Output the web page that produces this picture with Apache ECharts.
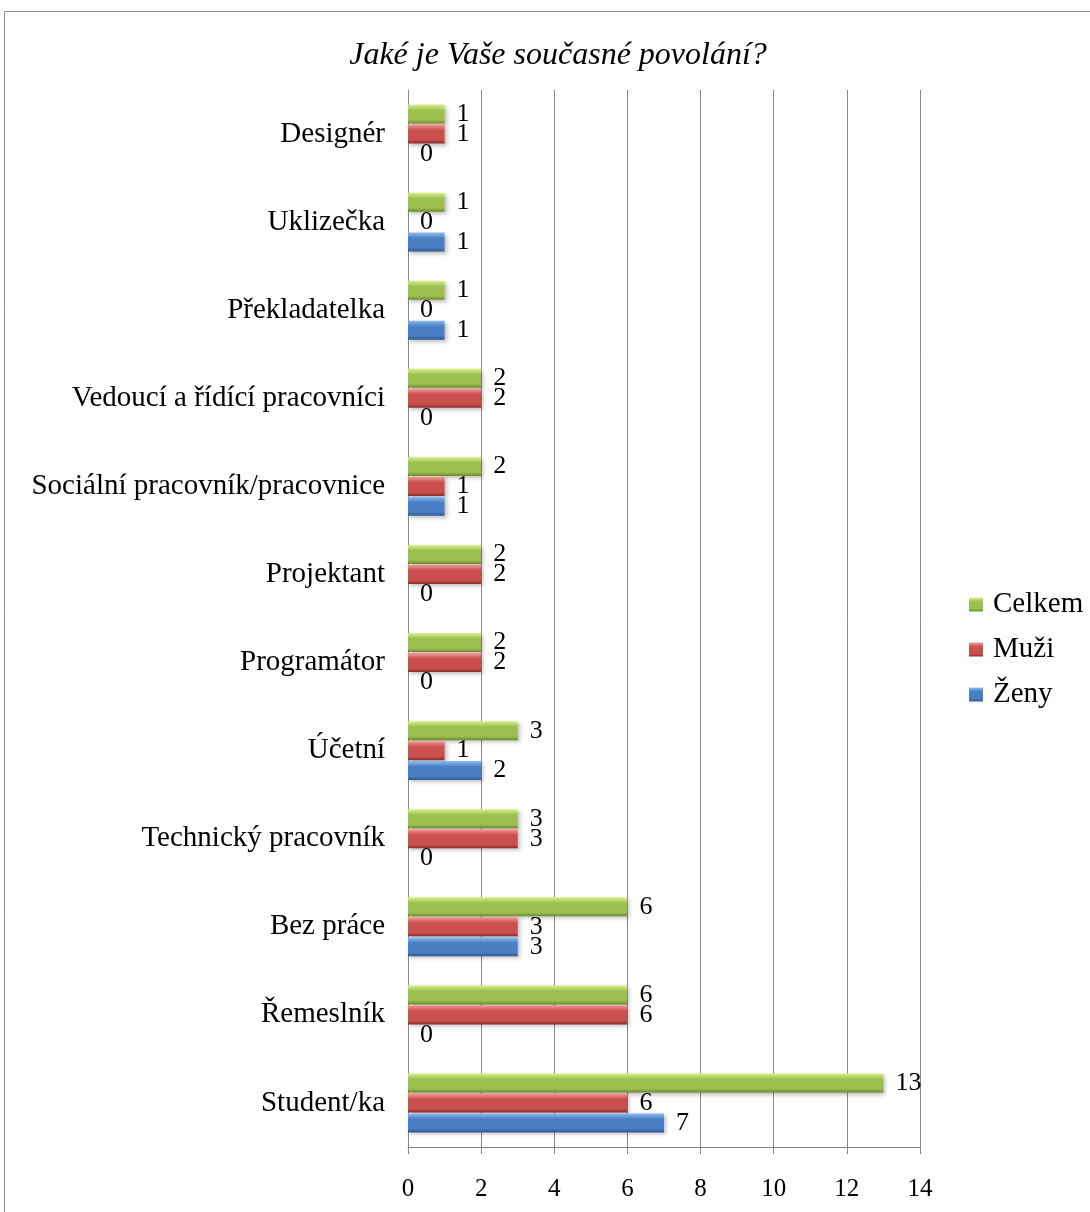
<!DOCTYPE html>
<html>
<head>
    <meta charset="utf-8">
    <title>Jaké je Vaše současné povolání?</title>
    <script src="https://cdn.jsdelivr.net/npm/echarts@6/dist/echarts.min.js"></script>
    <style>
        html, body { margin: 0; padding: 0; background: #fff; }
    </style>
</head>
<body>
<div id="main" style="width:1090px;height:1212px;"></div>
<script type="text/javascript">

    // kategorie odspodu nahoru
    var categories = ['Student/ka', 'Řemeslník', 'Bez práce', 'Technický pracovník', 'Účetní',
        'Programátor', 'Projektant', 'Sociální pracovník/pracovnice', 'Vedoucí a řídící pracovníci',
        'Překladatelka', 'Uklizečka', 'Designér'];
    var zeny   = [7, 0, 3, 0, 2, 0, 0, 1, 0, 1, 1, 0];
    var muzi   = [6, 6, 3, 3, 1, 2, 2, 1, 2, 0, 0, 1];
    var celkem = [13, 6, 6, 3, 3, 2, 2, 2, 2, 1, 1, 1];
    var xTicks = [0, 2, 4, 6, 8, 10, 12, 14];

    var font = '"Liberation Serif", "DejaVu Serif", serif';

    // svisly prechod - svetly horni okraj, tmavy spodni
    function grad(light, mid, dark) {
        return new echarts.graphic.LinearGradient(0, 0, 0, 1, [
            {offset: 0, color: light},
            {offset: 0.3, color: mid},
            {offset: 0.8, color: mid},
            {offset: 1, color: dark}
        ]);
    }

    function serie(name, data, color) {
        return {
            name: name,
            type: 'bar',
            data: data,
            barWidth: 19,
            barGap: '5%',
            itemStyle: {
                color: color,
                shadowColor: 'rgba(0,0,0,0.25)',
                shadowBlur: 4,
                shadowOffsetX: 2,
                shadowOffsetY: 2
            },
            label: {
                show: true,
                position: 'right',
                distance: 12,
                color: '#000',
                fontFamily: font,
                fontSize: 26
            }
        };
    }

    var myChart = echarts.init(document.getElementById('main'));

    var option = {
        animation: false,
        backgroundColor: '#fff',
        title: {
            text: 'Jaké je Vaše současné povolání?',
            left: 553,
            textAlign: 'center',
            top: 35,
            textStyle: {
                fontFamily: font,
                fontStyle: 'italic',
                fontWeight: 'normal',
                fontSize: 32,
                color: '#000'
            }
        },
        graphic: [{
            type: 'rect',
            shape: {x: 4.5, y: 11.5, width: 1100, height: 1300},
            style: {fill: 'none', stroke: '#8c8c8c', lineWidth: 1},
            silent: true
        }],
        legend: {
            orient: 'vertical',
            left: 964,
            top: 585,
            icon: 'rect',
            itemWidth: 14,
            itemHeight: 14,
            itemGap: 16,
            data: ['Celkem', 'Muži', 'Ženy'],
            textStyle: {fontFamily: font, fontSize: 29, color: '#000', padding: [0, 0, 0, 5]}
        },
        grid: {left: 408, right: 170, top: 90, bottom: 65},
        xAxis: {
            type: 'value',
            min: 0,
            max: 14,
            interval: 2,
            axisLine: {show: true, lineStyle: {color: '#888'}},
            axisTick: {show: true, length: 7, lineStyle: {color: '#888'}},
            splitLine: {show: true, lineStyle: {color: '#888', width: 1}},
            axisLabel: {
                margin: 30,
                fontFamily: font,
                fontSize: 25,
                color: '#000',
                formatter: function (v) { return xTicks.indexOf(v) >= 0 ? String(v) : ''; }
            }
        },
        yAxis: {
            type: 'category',
            data: categories,
            axisLine: {show: true, lineStyle: {color: '#888'}},
            axisTick: {show: false},
            axisLabel: {
                margin: 23,
                fontFamily: font,
                fontSize: 29,
                color: '#000'
            }
        },
        series: [
            serie('Celkem', celkem, grad('#dcf08a', '#9dbf50', '#6c8a2c')),
            serie('Muži', muzi, grad('#f49a97', '#c9504c', '#8f2f2d')),
            serie('Ženy', zeny, grad('#8cbcf0', '#4a7fc4', '#2d5690'))
        ]
    };

    myChart.setOption(option);
</script>
</body>
</html>
